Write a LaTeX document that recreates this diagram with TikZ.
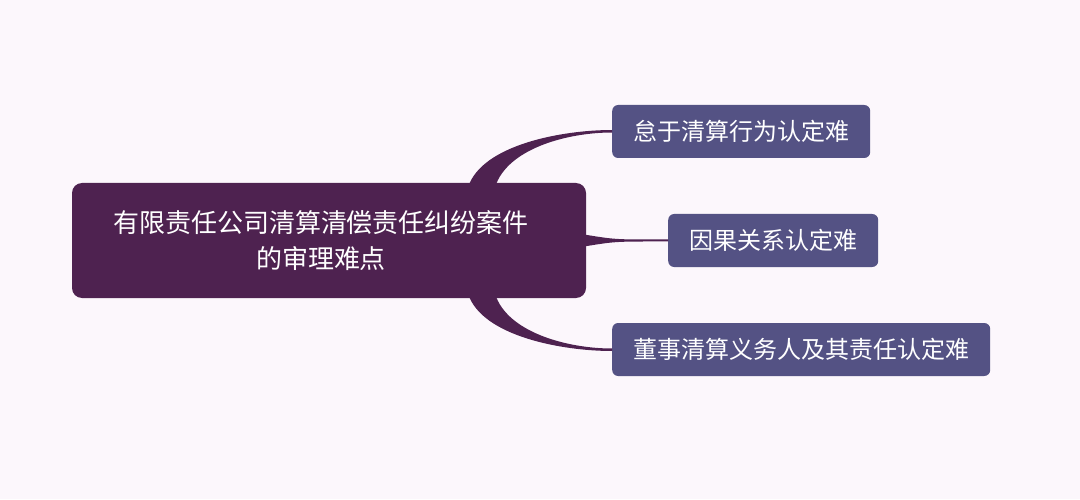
\documentclass[tikz,border=0pt]{standalone}
\usepackage{fontspec}
\newfontfamily\cjk{Noto Sans CJK SC}
\usetikzlibrary{calc}
\definecolor{paper}{HTML}{FCF7FC}
\definecolor{rootpurple}{HTML}{4E2250}
\definecolor{subpurple}{HTML}{545284}
\tikzset{
  rootbox/.style={fill=rootpurple, rounded corners=10pt, text=white, align=center,
    minimum width=514pt, minimum height=115pt, font=\cjk\fontsize{26}{36}\selectfont},
  subbox/.style={anchor=west, fill=subpurple, rounded corners=6pt, text=white,
    inner xsep=21pt, minimum height=53pt, font=\cjk\fontsize{24}{28}\selectfont},
  branch/.style={fill=rootpurple}
}
\begin{document}
\begin{tikzpicture}[x=1pt,y=1pt]
\fill[paper] (0,0) rectangle (1080,499);
\useasboundingbox (0,0) rectangle (1080,499);
\node[rootbox] (root) at (329,258.5) {有限责任公司清算清偿责任纠纷案件\hspace*{16pt}\\的审理难点\hspace*{16pt}};
\node[subbox] (lazy) at (612,367.5) {怠于清算行为认定难};
\node[subbox] (cause) at (668,258.5) {因果关系认定难};
\node[subbox] (duty) at (612,149.5) {董事清算义务人及其责任认定难};
\fill[branch] ($(root.north east)+(-118,-4)$) .. controls +(14,42) and +(-50,0) .. ($(lazy.west)+(0,1.5)$)
  -- ($(lazy.west)+(0,-1)$) .. controls +(-45,0) and +(12,38) .. ($(root.north east)+(-91,-4)$) -- cycle;
\fill[branch] ($(root.east)+(-8,7)$) .. controls +(30,-5) and +(-30,0) .. ($(cause.west)+(-25,1)$)
  -- ($(cause.west)+(0,1)$) -- ($(cause.west)+(0,-1)$) -- ($(cause.west)+(-25,-1)$)
  .. controls +(-30,0) and +(30,5) .. ($(root.east)+(-8,-7)$) -- cycle;
\fill[branch] ($(root.south east)+(-118,4)$) .. controls +(14,-42) and +(-50,0) .. ($(duty.west)+(0,-1.5)$)
  -- ($(duty.west)+(0,1)$) .. controls +(-45,0) and +(12,-38) .. ($(root.south east)+(-91,4)$) -- cycle;
\end{tikzpicture}
\end{document}
